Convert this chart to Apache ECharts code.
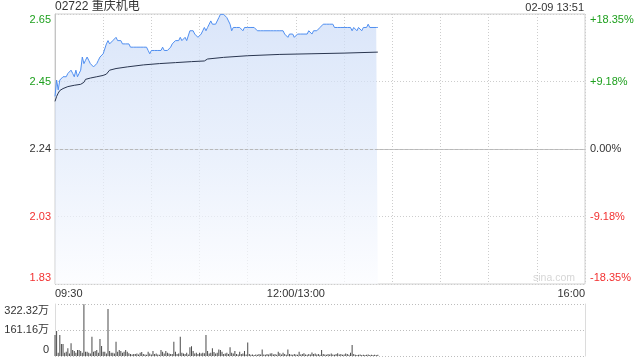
<!DOCTYPE html>
<html><head><meta charset="utf-8">
<script src="https://cdn.jsdelivr.net/npm/echarts@6/dist/echarts.min.js"></script>
<style>html,body{margin:0;padding:0;background:#fff}#c{width:640px;height:360px}</style>
</head><body><div id="c"></div>
<script>
const stockName = '02722 重庆机电';
const stamp = '02-09 13:51';
const watermark = 'sina.com';
const prevClose = 2.24;
const priceStep = 0.20552; // 9.175% of prevClose per grid row
const priceTickLabels = ['1.83', '2.03', '2.24', '2.45', '2.65'];
const pctTickLabels = ['-18.35%', '-9.18%', '0.00%', '+9.18%', '+18.35%'];
const timeTicks = [0, 150, 330];
const timeLabels = ['09:30', '12:00/13:00', '16:00'];
const volStep = 161.16;
const volTickLabels = ['0', '161.16万', '322.32万'];

// minute-by-minute price (09:30 .. 13:51)
const prices = [
  2.40,2.45,2.42,2.45,2.45,2.46,2.46,2.46,2.47,2.47,
  2.48,2.47,2.46,2.48,2.46,2.47,2.48,2.52,2.50,2.51,
  2.52,2.51,2.50,2.50,2.49,2.49,2.50,2.51,2.52,2.52,
  2.53,2.53,2.56,2.57,2.56,2.56,2.57,2.57,2.58,2.57,
  2.57,2.57,2.56,2.56,2.56,2.56,2.56,2.55,2.55,2.55,
  2.55,2.55,2.55,2.55,2.55,2.55,2.55,2.55,2.54,2.53,
  2.54,2.54,2.54,2.54,2.54,2.54,2.54,2.55,2.54,2.54,
  2.54,2.54,2.55,2.56,2.56,2.57,2.57,2.57,2.58,2.57,
  2.57,2.58,2.57,2.57,2.60,2.60,2.60,2.59,2.59,2.58,
  2.58,2.59,2.60,2.61,2.60,2.61,2.62,2.63,2.62,2.62,
  2.62,2.62,2.64,2.65,2.65,2.65,2.65,2.64,2.63,2.62,
  2.60,2.61,2.61,2.61,2.61,2.61,2.61,2.60,2.61,2.61,
  2.61,2.61,2.61,2.61,2.61,2.61,2.60,2.60,2.60,2.60,
  2.60,2.60,2.60,2.60,2.60,2.60,2.60,2.60,2.60,2.60,
  2.60,2.60,2.60,2.59,2.59,2.58,2.59,2.59,2.59,2.58,
  2.58,2.59,2.59,2.59,2.59,2.59,2.59,2.59,2.60,2.60,
  2.59,2.60,2.60,2.60,2.60,2.61,2.61,2.62,2.62,2.62,
  2.62,2.62,2.62,2.62,2.61,2.61,2.61,2.61,2.61,2.61,
  2.61,2.61,2.61,2.61,2.61,2.60,2.61,2.61,2.60,2.61,
  2.61,2.60,2.61,2.61,2.61,2.62,2.61,2.61,2.61,2.61,
  2.61,2.61
];

// average price line, read at selected minutes
const avgMinutes = [0,1,2,3,5,8,12,16,17,18,19,22,26,30,32,33,34,38,45,55,65,75,85,93,95,105,120,140,160,180,201];
const avgPrices  = [2.385,2.400,2.410,2.418,2.424,2.430,2.434,2.437,2.440,2.443,2.452,2.456,2.460,2.464,2.468,2.472,2.480,2.485,2.490,2.496,2.500,2.503,2.506,2.508,2.514,2.519,2.524,2.528,2.530,2.532,2.535];

// minute volume, 万
const volumes = [
  130,155,20,130,74,74,20,27,48,15,
  79,37,31,20,37,37,31,20,320,27,
  27,20,15,120,27,31,37,20,105,62,
  27,27,15,291,31,20,20,15,89,27,
  37,31,20,27,37,27,17,12,10,12,
  12,15,10,20,25,12,10,8,27,15,
  10,31,12,15,10,8,37,27,15,31,
  20,15,12,12,89,27,12,15,120,20,
  15,12,20,10,54,60,31,15,20,12,
  20,15,20,17,130,31,15,20,48,25,
  15,20,41,37,27,12,15,20,12,54,
  20,15,31,12,10,27,12,15,31,10,
  83,12,8,10,6,10,8,12,10,41,
  10,8,12,10,15,17,10,12,8,27,
  17,10,20,12,8,41,12,10,8,12,
  10,8,27,10,12,17,10,8,12,10,
  22,12,15,10,12,8,37,12,10,8,
  12,10,15,10,8,12,17,10,12,8,
  10,15,12,8,20,68,12,8,6,8,
  10,6,8,6,8,10,6,8,6,8,
  6,8
];

const toU = p => (p - prevClose) / priceStep;
const FONT = "'Liberation Sans', Arial, 'Noto Sans CJK SC', sans-serif";
const GREEN = '#1ea01e', RED = '#f23030', DARK = '#333';
const DOT = [1, 2];
const GRIDC = '#cdcdcd';

const chart = echarts.init(document.getElementById('c'), null, {renderer: 'canvas'});
const priceStyles = ['rb', 'r', 'k', 'g', 'gt'];
const labelRich = {
  g: {color: GREEN, fontSize: 11, fontFamily: FONT},
  gt: {color: GREEN, fontSize: 11, fontFamily: FONT, padding: [11, 0, 0, 0]},
  k: {color: DARK, fontSize: 11, fontFamily: FONT},
  r: {color: RED, fontSize: 11, fontFamily: FONT},
  rb: {color: RED, fontSize: 11, fontFamily: FONT, padding: [0, 0, 12, 0]},
  vt: {color: DARK, fontSize: 11, fontFamily: FONT, padding: [14, 0, 0, 0]},
  vm: {color: DARK, fontSize: 11, fontFamily: FONT},
  vb: {color: DARK, fontSize: 11, fontFamily: FONT, padding: [0, 0, 13, 0]}
};

const option = {
  animation: false,
  backgroundColor: '#fff',
  textStyle: {fontFamily: FONT},
  graphic: [
    {type: 'text', left: 55, top: 1, style: {text: stockName, fill: DARK, font: '12px ' + FONT}},
    {type: 'text', right: 56, top: 2, style: {text: stamp, fill: DARK, font: '11px ' + FONT}},
    {type: 'text', left: 533, top: 273, style: {text: watermark, fill: '#d6d6d6', font: '10.5px ' + FONT}}
  ],
  grid: [
    {left: 55, width: 530, top: 14, height: 270, show: true, borderColor: '#d0d0d0', borderWidth: 1, backgroundColor: 'transparent', outerBoundsMode: 'none'},
    {left: 55, width: 530, top: 304, height: 52, outerBoundsMode: 'none'}
  ],
  xAxis: [
    {
      type: 'value', gridIndex: 0, min: 0, max: 330, interval: 30,
      axisLine: {show: true, lineStyle: {color: '#c4c4c4'}},
      axisTick: {show: false},
      splitLine: {show: true, lineStyle: {color: GRIDC, type: DOT}},
      axisLabel: {
        margin: 4, color: DARK, fontSize: 11, showMinLabel: true, showMaxLabel: true,
        alignMinLabel: 'left', alignMaxLabel: 'right',
        formatter: v => { const i = timeTicks.indexOf(Math.round(v)); return i >= 0 ? timeLabels[i] : ''; }
      }
    },
    {
      type: 'value', gridIndex: 1, min: 0, max: 330, interval: 30,
      axisLine: {show: false}, axisTick: {show: false}, axisLabel: {show: false}, splitLine: {show: false}
    }
  ],
  yAxis: [
    {
      type: 'value', gridIndex: 0, min: -2, max: 2, interval: 1,
      axisLine: {show: true, lineStyle: {color: '#c4c4c4'}},
      axisTick: {show: false},
      splitLine: {show: true, lineStyle: {color: [GRIDC, GRIDC, 'rgba(0,0,0,0)', GRIDC, GRIDC], type: DOT}},
      axisLabel: {
        margin: 4, showMinLabel: true, showMaxLabel: true, rich: labelRich,
        formatter: v => { const i = Math.round(v) + 2; return '{' + priceStyles[i] + '|' + priceTickLabels[i] + '}'; }
      }
    },
    {
      type: 'value', gridIndex: 0, position: 'right', min: -2, max: 2, interval: 1,
      axisLine: {show: false}, axisTick: {show: false}, splitLine: {show: false},
      axisLabel: {
        margin: 5, showMinLabel: true, showMaxLabel: true, rich: labelRich,
        formatter: v => { const i = Math.round(v) + 2; return '{' + priceStyles[i] + '|' + pctTickLabels[i] + '}'; }
      }
    },
    {
      type: 'value', gridIndex: 1, min: 0, max: volStep * 2, interval: volStep,
      axisLine: {show: true, lineStyle: {color: '#dcdcdc'}},
      axisTick: {show: false},
      splitLine: {show: true, lineStyle: {color: '#bdbdbd', type: DOT}},
      axisLabel: {
        margin: 6, showMinLabel: true, showMaxLabel: true, rich: labelRich,
        formatter: v => { const i = Math.round(v / volStep); return '{' + ['vb', 'vm', 'vt'][i] + '|' + volTickLabels[i] + '}'; }
      }
    },
    {
      type: 'value', gridIndex: 1, position: 'right', min: 0, max: volStep * 2, interval: volStep,
      axisLine: {show: true, lineStyle: {color: '#dcdcdc'}},
      axisTick: {show: false}, axisLabel: {show: false}, splitLine: {show: false}
    }
  ],
  series: [
    {
      type: 'line', xAxisIndex: 0, yAxisIndex: 0, showSymbol: false, symbol: 'none',
      data: prices.map((p, i) => [i, toU(p)]),
      lineStyle: {color: '#4f8ef0', width: 1},
      areaStyle: {
        origin: 'start',
        color: {type: 'linear', x: 0, y: 0, x2: 0, y2: 1,
          colorStops: [{offset: 0, color: '#cbdbf7'}, {offset: 0.55, color: '#e3ecfb'}, {offset: 1, color: '#fbfcff'}]}
      },
      markLine: {
        silent: true, symbol: ['none', 'none'], label: {show: false},
        lineStyle: {color: '#b8b8b8', type: [3, 2], width: 1},
        data: [{yAxis: 0}]
      },
      z: 3
    },
    {
      type: 'line', xAxisIndex: 0, yAxisIndex: 0, showSymbol: false, symbol: 'none',
      data: avgMinutes.map((m, i) => [m, toU(avgPrices[i])]),
      lineStyle: {color: '#2a3650', width: 1},
      z: 4
    },
    {
      type: 'bar', xAxisIndex: 1, yAxisIndex: 2, barWidth: 1,
      data: volumes.map((v, i) => [i, v]),
      itemStyle: {color: '#4a4a4a'}
    }
  ]
};
chart.setOption(option);
</script>
</body></html>
